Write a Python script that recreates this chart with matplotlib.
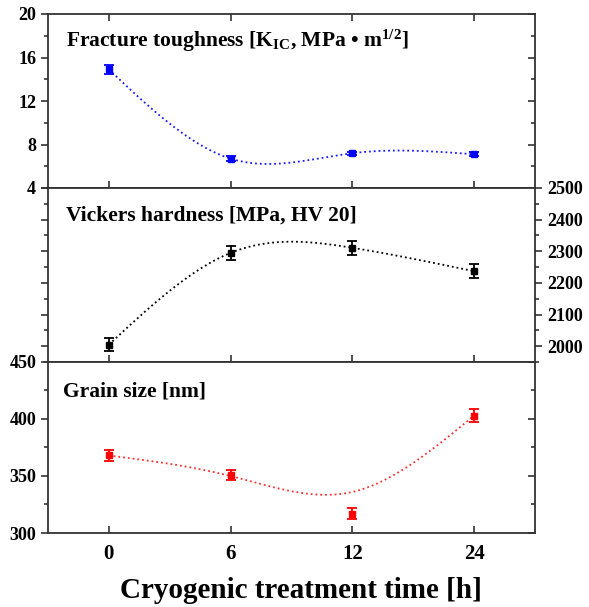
import numpy as np
import matplotlib
matplotlib.use("Agg")
import matplotlib.pyplot as plt
from matplotlib.ticker import MultipleLocator

plt.rcParams['font.family'] = ['Liberation Serif', 'DejaVu Serif']
plt.rcParams['font.weight'] = 'bold'
plt.rcParams['mathtext.fontset'] = 'custom'
plt.rcParams['mathtext.rm'] = 'Liberation Serif:bold'
plt.rcParams['mathtext.bf'] = 'Liberation Serif:bold'
plt.rcParams['mathtext.it'] = 'Liberation Serif:bold:italic'

# data
time_labels = ['0', '6', '12', '24']
toughness = [14.9, 6.7, 7.2, 7.1]
toughness_err = [0.45, 0.2, 0.15, 0.2]
hardness = [2005, 2295, 2311, 2237]
hardness_err = [20, 23, 23, 23]
grain = [368, 351, 317, 403]
grain_err = [4.7, 4.5, 4.8, 5.8]
# dotted trend line knots
grain_trend = [368, 350, 336, 403]


def natural_spline(x, y, n=200):
    x = np.asarray(x, float)
    y = np.asarray(y, float)
    k = len(x)
    h = np.diff(x)
    A = np.zeros((k, k))
    b = np.zeros(k)
    A[0, 0] = A[-1, -1] = 1
    for i in range(1, k - 1):
        A[i, i - 1] = h[i - 1]
        A[i, i] = 2 * (h[i - 1] + h[i])
        A[i, i + 1] = h[i]
        b[i] = 6 * ((y[i + 1] - y[i]) / h[i] - (y[i] - y[i - 1]) / h[i - 1])
    M = np.linalg.solve(A, b)
    xs = np.linspace(x[0], x[-1], n)
    idx = np.clip(np.searchsorted(x, xs) - 1, 0, k - 2)
    x0, x1 = x[idx], x[idx + 1]
    hh = x1 - x0
    t0, t1 = x1 - xs, xs - x0
    ys = (M[idx] * t0 ** 3 + M[idx + 1] * t1 ** 3) / (6 * hh) \
        + (y[idx] / hh - M[idx] * hh / 6) * t0 \
        + (y[idx + 1] / hh - M[idx + 1] * hh / 6) * t1
    return xs, ys


pos = np.arange(len(time_labels))

fig = plt.figure(figsize=(5.89, 6.07), dpi=100)
L, W = 48 / 589, 487 / 589
ax1 = fig.add_axes([L, 1 - 188 / 607, W, 174 / 607])
ax2 = fig.add_axes([L, 1 - 362 / 607, W, 174 / 607])
ax3 = fig.add_axes([L, 1 - 533 / 607, W, 171 / 607])

spine_c = '#333333'
for ax in (ax1, ax2, ax3):
    for s in ax.spines.values():
        s.set_linewidth(1.3)
        s.set_color(spine_c)
    ax.set_xlim(-0.5, 3.5)
    ax.set_xticks(pos)
    ax.tick_params(axis='x', direction='in', length=5, width=1.2, color=spine_c,
                   labelbottom=False)
    ax.tick_params(axis='y', which='major', length=5, width=1.2, color=spine_c, labelsize=13)
    ax.tick_params(axis='y', which='minor', length=3, width=1.2, color=spine_c)

# top panel
ax1.tick_params(axis='x', top=True)
ax1.set_ylim(4, 20)
ax1.yaxis.set_major_locator(MultipleLocator(4))
ax1.yaxis.set_minor_locator(MultipleLocator(2))
ax1.tick_params(axis='y', which='both', direction='out', left=True, right=False)
r1 = ax1.secondary_yaxis('right')
r1.set_yticks(np.arange(4, 21, 4))
r1.yaxis.set_minor_locator(MultipleLocator(2))
r1.tick_params(which='both', direction='in', labelright=False, color=spine_c, width=1.2)
r1.tick_params(which='major', length=5)
r1.tick_params(which='minor', length=3)
r1.spines['right'].set_visible(False)
xs, ys = natural_spline(pos, toughness)
ax1.plot(xs, ys, ':', color='#1a1aff', lw=1.3)
ax1.errorbar(pos, toughness, yerr=toughness_err, fmt='s', color='#0000ff', ms=4.5,
             capsize=3.5, elinewidth=1.3, capthick=1.3)
ax1.text(0.037, 0.81, 'Fracture toughness [K$_{\\mathrm{IC}}$, MPa \u2022 m$^{\\mathrm{1/2}}$]',
         transform=ax1.transAxes, fontsize=15.5, fontweight='bold')

# middle panel
ax2.set_ylim(1950, 2500)
ax2.yaxis.set_major_locator(MultipleLocator(100))
ax2.yaxis.set_minor_locator(MultipleLocator(50))
ax2.tick_params(axis='y', which='both', direction='out', left=True, right=True,
                labelleft=False, labelright=True)
xs, ys = natural_spline(pos, hardness)
ax2.plot(xs, ys, ':', color='black', lw=1.3)
ax2.errorbar(pos, hardness, yerr=hardness_err, fmt='s', color='black', ms=4.5,
             capsize=3.5, elinewidth=1.3, capthick=1.3)
ax2.text(0.037, 0.81, 'Vickers hardness [MPa, HV 20]', transform=ax2.transAxes,
         fontsize=15.5, fontweight='bold')

# bottom panel
ax3.set_ylim(300, 450)
ax3.yaxis.set_major_locator(MultipleLocator(50))
ax3.yaxis.set_minor_locator(MultipleLocator(25))
ax3.tick_params(axis='y', which='both', direction='out', left=True, right=False)
r3 = ax3.secondary_yaxis('right')
r3.set_yticks(np.arange(300, 451, 50))
r3.yaxis.set_minor_locator(MultipleLocator(25))
r3.tick_params(which='both', direction='in', labelright=False, color=spine_c, width=1.2)
r3.tick_params(which='major', length=5)
r3.tick_params(which='minor', length=3)
r3.spines['right'].set_visible(False)
xs, ys = natural_spline(pos, grain_trend)
ax3.plot(xs, ys, ':', color='#ff3030', lw=1.3)
ax3.errorbar(pos, grain, yerr=grain_err, fmt='s', color='#ff0000', ms=4.5,
             capsize=3.5, elinewidth=1.3, capthick=1.3)
ax3.text(0.03, 0.8, 'Grain size [nm]', transform=ax3.transAxes,
         fontsize=15.5, fontweight='bold')
ax3.set_xticks(pos)
ax3.set_xticklabels(time_labels)
ax3.tick_params(axis='x', labelbottom=True, labelsize=15, pad=8)
ax3.set_xlabel('Cryogenic treatment time [h]', fontsize=21, fontweight='bold')
ax3.xaxis.set_label_coords(0.52, -0.26)

fig.savefig('out.png', dpi=100)
